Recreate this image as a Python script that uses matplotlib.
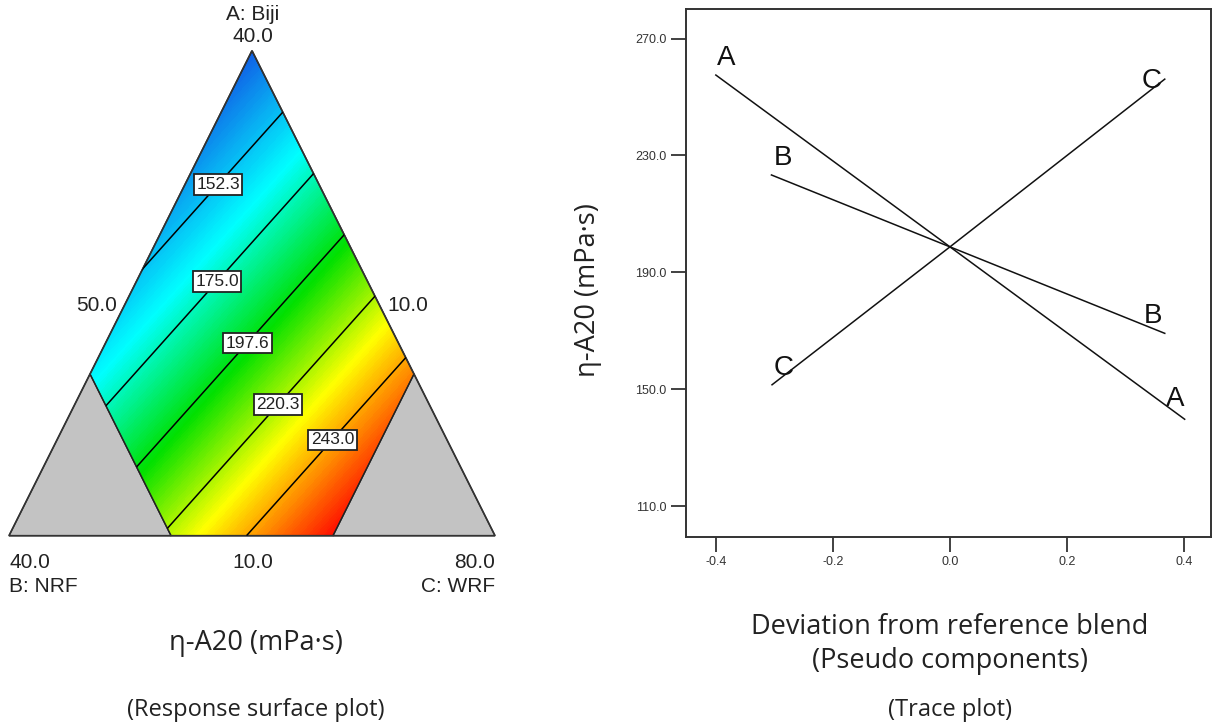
import numpy as np
import matplotlib
matplotlib.use("Agg")
import matplotlib.pyplot as plt
from matplotlib.colors import LinearSegmentedColormap
from matplotlib.patches import Polygon

# ternary response (pseudo components, linear blend)
vertex_names = ["A: Biji", "B: NRF", "C: WRF"]
vertex_max = ["40.0", "40.0", "80.0"]
edge_min = ["10.0", "10.0", "50.0"]  # A min (bottom), B min (right), C min (left)
coef_A, coef_B, coef_C = 129.6, 180.1, 308.8
contour_levels = [152.3, 175.0, 197.6, 220.3, 243.0]
limit_B, limit_C = 2 / 3, 2 / 3  # upper bounds, pseudo scale

# trace plot
trace_names = ["A", "B", "C"]
trace_x = {
    "A": [-0.400, 0.0, 0.401],
    "B": [-0.305, 0.0, 0.367],
    "C": [-0.304, 0.0, 0.367],
}
trace_y = {
    "A": [257.5, 198.7, 139.7],
    "B": [223.3, 198.7, 169.1],
    "C": [151.5, 198.7, 256.1],
}
x_ticks = [-0.4, -0.2, 0.0, 0.2, 0.4]
y_ticks = [110.0, 150.0, 190.0, 230.0, 270.0]

ko_font = ["Open Sans", "DejaVu Sans"]
ar_font = ["Liberation Sans", "DejaVu Sans"]

fig = plt.figure(figsize=(12.17, 7.26), dpi=100)
W, H = 1217.0, 726.0


def fx(px):
    return px / W


def fy(py):
    return 1 - py / H


# ---------------- ternary plot ----------------
ax = fig.add_axes([fx(9), fy(535.7), 486 / W, 485 / H])
ax.set_xlim(0, 1)
ax.set_ylim(0, 1)
ax.axis("off")


def to_xy(a, b, c):
    return c + a / 2.0, a


xs = np.linspace(0, 1, 500)
ys = np.linspace(0, 1, 500)
X, Y = np.meshgrid(xs, ys)
A = Y
C = X - Y / 2.0
B = 1 - A - C
Z = coef_A * A + coef_B * B + coef_C * C

feas = [
    to_xy(1, 0, 0),
    to_xy(1 - limit_B, limit_B, 0),
    to_xy(0, limit_B, 1 - limit_B),
    to_xy(0, 1 - limit_C, limit_C),
    to_xy(1 - limit_C, 0, limit_C),
]
zmin = coef_A
zmax = coef_B * (1 - limit_C) + coef_C * limit_C

cmap = LinearSegmentedColormap.from_list(
    "de", [(0.0, "#1060e6"), (0.27, "#00ffff"), (0.52, "#00e000"),
           (0.74, "#ffff00"), (1.0, "#ff1000")]
)
fill = ax.contourf(X, Y, Z, levels=np.linspace(zmin - 1, zmax + 1, 200),
                   cmap=cmap, vmin=zmin, vmax=zmax)
clip = Polygon(feas, closed=True, facecolor="none", edgecolor="none",
               transform=ax.transData)
ax.add_patch(clip)
fill.set_clip_path(clip)

lines = ax.contour(X, Y, Z, levels=contour_levels, colors="black",
                   linewidths=1.1)
lines.set_clip_path(clip)

# gray excluded corners
gray_B = [to_xy(0, 1, 0), to_xy(1 - limit_B, limit_B, 0), to_xy(0, limit_B, 1 - limit_B)]
gray_C = [to_xy(0, 0, 1), to_xy(1 - limit_C, 0, limit_C), to_xy(0, 1 - limit_C, limit_C)]
for tri in (gray_B, gray_C):
    ax.add_patch(Polygon(tri, closed=True, facecolor="#c3c3c3",
                         edgecolor="#333333", linewidth=1.0, clip_on=False))
ax.add_patch(Polygon(feas, closed=True, facecolor="none", edgecolor="#222222",
                     linewidth=1.0, clip_on=False))
ax.add_patch(Polygon([to_xy(1, 0, 0), to_xy(0, 1, 0), to_xy(0, 0, 1)],
                     closed=True, facecolor="none", edgecolor="#333333",
                     linewidth=1.2, clip_on=False))

label_pos = [(0.418, 0.735), (0.418, 0.533), (0.479, 0.407),
             (0.541, 0.282), (0.652, 0.210)]
labels = ax.clabel(lines, levels=contour_levels, fmt="%.1f", inline=False,
                   manual=label_pos, fontsize=12.5)
for t in labels:
    t.set_rotation(0)
    t.set_family(ar_font)
    t.set_color("#222222")
    t.set_bbox(dict(facecolor="white", edgecolor="#222222", linewidth=1.3,
                    boxstyle="square,pad=0.15"))

tk = dict(fontsize=15, family=ar_font, color="#222222")
fig.text(fx(252.5), fy(15), vertex_names[0], ha="center", va="center", **tk)
fig.text(fx(252.5), fy(37), vertex_max[0], ha="center", va="center", **tk)
fig.text(fx(9), fy(562), vertex_max[1], ha="left", va="center", **tk)
fig.text(fx(9), fy(586), vertex_names[1], ha="left", va="center", **tk)
fig.text(fx(495), fy(562), vertex_max[2], ha="right", va="center", **tk)
fig.text(fx(495), fy(586), vertex_names[2], ha="right", va="center", **tk)
fig.text(fx(252.5), fy(562), edge_min[0], ha="center", va="center", **tk)
fig.text(fx(97), fy(306), edge_min[2], ha="center", va="center", **tk)
fig.text(fx(408), fy(306), edge_min[1], ha="center", va="center", **tk)

fig.text(fx(256), fy(643), "η-A20 (mPa·s)", ha="center", va="center",
         fontsize=19.5, family=ko_font, color="#222222")
fig.text(fx(256), fy(710), "(Response surface plot)", ha="center",
         va="center", fontsize=17, family=ko_font, color="#222222")

# ---------------- trace plot ----------------
ax2 = fig.add_axes([fx(686), fy(537), 525 / W, 527.7 / H])
for name in trace_names:
    ax2.plot(trace_x[name], trace_y[name], color="#111111", linewidth=1.1)

lt = dict(fontsize=20, family=ar_font, color="#111111", ha="center",
          va="center")
ax2.text(-0.382, 263.5, "A", **lt)
ax2.text(0.384, 146.5, "A", **lt)
ax2.text(-0.286, 229.2, "B", **lt)
ax2.text(0.347, 175.0, "B", **lt)
ax2.text(-0.285, 157.4, "C", **lt)
ax2.text(0.345, 255.5, "C", **lt)

ax2.set_xlim(-0.451, 0.446)
ax2.set_ylim(99.4, 280.0)
ax2.set_xticks(x_ticks)
ax2.set_yticks(y_ticks)
ax2.set_xticklabels([f"{v:.1f}" for v in x_ticks])
ax2.set_yticklabels([f"{v:.1f}" for v in y_ticks])
ax2.tick_params(direction="out", length=11, width=1.3, colors="#333333",
                labelsize=9, pad=3)
for lab in ax2.get_xticklabels() + ax2.get_yticklabels():
    lab.set_family(ar_font)
for sp in ax2.spines.values():
    sp.set_linewidth(1.4)
    sp.set_color("#333333")

ax2.set_ylabel("η-A20 (mPa·s)", fontsize=19.5, family=ko_font,
               color="#222222")
ax2.yaxis.set_label_coords(-0.16, 0.468)
fig.text(fx(950), fy(627), "Deviation from reference blend", ha="center",
         va="center", fontsize=19.5, family=ko_font, color="#222222")
fig.text(fx(950), fy(661), "(Pseudo components)", ha="center", va="center",
         fontsize=19.5, family=ko_font, color="#222222")
fig.text(fx(950), fy(710), "(Trace plot)", ha="center", va="center",
         fontsize=17, family=ko_font, color="#222222")

fig.savefig("out.png", dpi=100)
